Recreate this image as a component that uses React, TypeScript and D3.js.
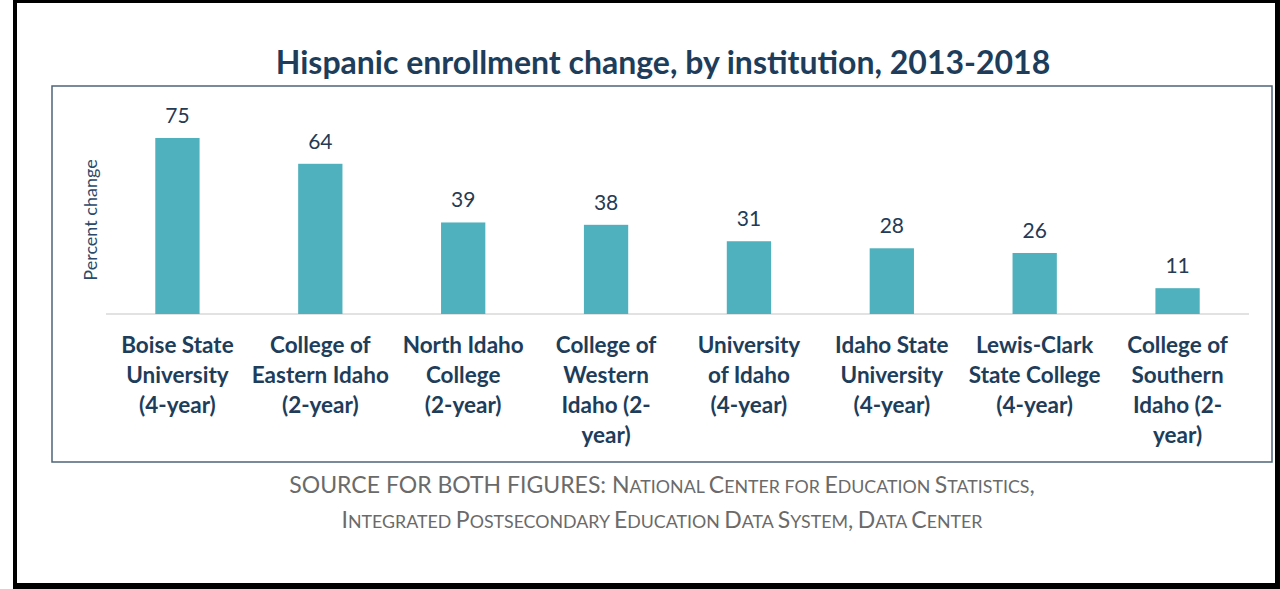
import { useEffect } from "react"
import * as d3 from "d3"

const INSTITUTIONS = [
  "Boise State University (4-year)",
  "College of Eastern Idaho (2-year)",
  "North Idaho College (2-year)",
  "College of Western Idaho (2-year)",
  "University of Idaho (4-year)",
  "Idaho State University (4-year)",
  "Lewis-Clark State College (4-year)",
  "College of Southern Idaho (2-year)",
]

const LABEL_LINES = [
  ["Boise State", "University", "(4-year)"],
  ["College of", "Eastern Idaho", "(2-year)"],
  ["North Idaho", "College", "(2-year)"],
  ["College of", "Western", "Idaho (2-", "year)"],
  ["University", "of Idaho", "(4-year)"],
  ["Idaho State", "University", "(4-year)"],
  ["Lewis-Clark", "State College", "(4-year)"],
  ["College of", "Southern", "Idaho (2-", "year)"],
]

const PCT_CHANGE = [75, 64, 39, 38, 31, 28, 26, 11]

const TITLE = "Hispanic enrollment change, by institution, 2013-2018"
const Y_LABEL = "Percent change"
const SOURCE_LINES = [
  { caps: "SOURCE FOR BOTH FIGURES: ", sc: "National Center for Education Statistics," },
  { caps: "", sc: "Integrated Postsecondary Education Data System, Data Center" },
]

const W = 1280
const H = 589
const FONT = "Lato, 'Open Sans', sans-serif"
const NAVY = "#1d3d5b"
const BAR = "#4fb1bd"
const GRAY = "#6a6a6a"

// split a string into small-caps runs: capitals at full size, the rest uppercased smaller
function smallCaps(s: string) {
  const runs: { t: string; big: boolean }[] = []
  for (const ch of s) {
    const big = ch !== ch.toLowerCase() || /[^a-z]/i.test(ch) && ch !== " "
    const last = runs[runs.length - 1]
    if (last && last.big === big) last.t += ch.toUpperCase()
    else runs.push({ t: ch.toUpperCase(), big })
  }
  return runs
}

export default function App() {
  useEffect(() => {
    document.body.style.margin = "0"
  }, [])

  const x = d3
    .scaleBand<string>()
    .domain(INSTITUTIONS)
    .range([106, 1249])
    .paddingInner(0.69)
    .paddingOuter(0.345)

  const y = d3.scaleLinear().domain([0, 80]).range([314, 314 - 80 * 2.347])

  return (
    <svg width={W} height={H} style={{ display: "block" }}>
      {/* black frame */}
      <rect x={13} y={0} width={W - 13} height={H} fill="#000" />
      <rect x={17} y={3} width={1258} height={580} fill="#fff" />

      <text
        x={663}
        y={74}
        textAnchor="middle"
        fontFamily={FONT}
        fontWeight={700}
        fontSize={32}
        fill={NAVY}
      >
        {TITLE}
      </text>

      {/* chart box */}
      <rect x={52} y={86} width={1220} height={376} fill="none" stroke="#4d6578" strokeWidth={1.5} />

      <text
        transform={`translate(97,220) rotate(-90)`}
        textAnchor="middle"
        fontFamily={FONT}
        fontSize={18}
        fill="#2b4a6a"
      >
        {Y_LABEL}
      </text>

      <line x1={106} x2={1249} y1={y(0)} y2={y(0)} stroke="#d9d9d9" strokeWidth={1.5} />

      {INSTITUTIONS.map((inst, i) => {
        const cx = x(inst)! + x.bandwidth() / 2
        return (
          <g key={inst}>
            <rect
              x={x(inst)}
              y={y(PCT_CHANGE[i])}
              width={x.bandwidth()}
              height={y(0) - y(PCT_CHANGE[i])}
              fill={BAR}
            />
            <text
              x={cx}
              y={y(PCT_CHANGE[i]) - 15}
              textAnchor="middle"
              fontFamily={FONT}
              fontSize={21}
              fill="#243a55"
            >
              {PCT_CHANGE[i]}
            </text>
            {LABEL_LINES[i].map((ln, j) => (
              <text
                key={j}
                x={cx}
                y={353 + j * 30}
                textAnchor="middle"
                fontFamily={FONT}
                fontWeight={700}
                fontSize={22.5}
                fill={NAVY}
              >
                {ln}
              </text>
            ))}
          </g>
        )
      })}

      {SOURCE_LINES.map((ln, i) => (
        <text
          key={i}
          x={662}
          y={493 + i * 35}
          textAnchor="middle"
          fontFamily={FONT}
          fontSize={23}
          fill={GRAY}
        >
          {ln.caps && <tspan>{ln.caps}</tspan>}
          {smallCaps(ln.sc).map((r, k) => (
            <tspan key={k} fontSize={r.big ? 23 : 17.8}>
              {r.t}
            </tspan>
          ))}
        </text>
      ))}
    </svg>
  )
}
